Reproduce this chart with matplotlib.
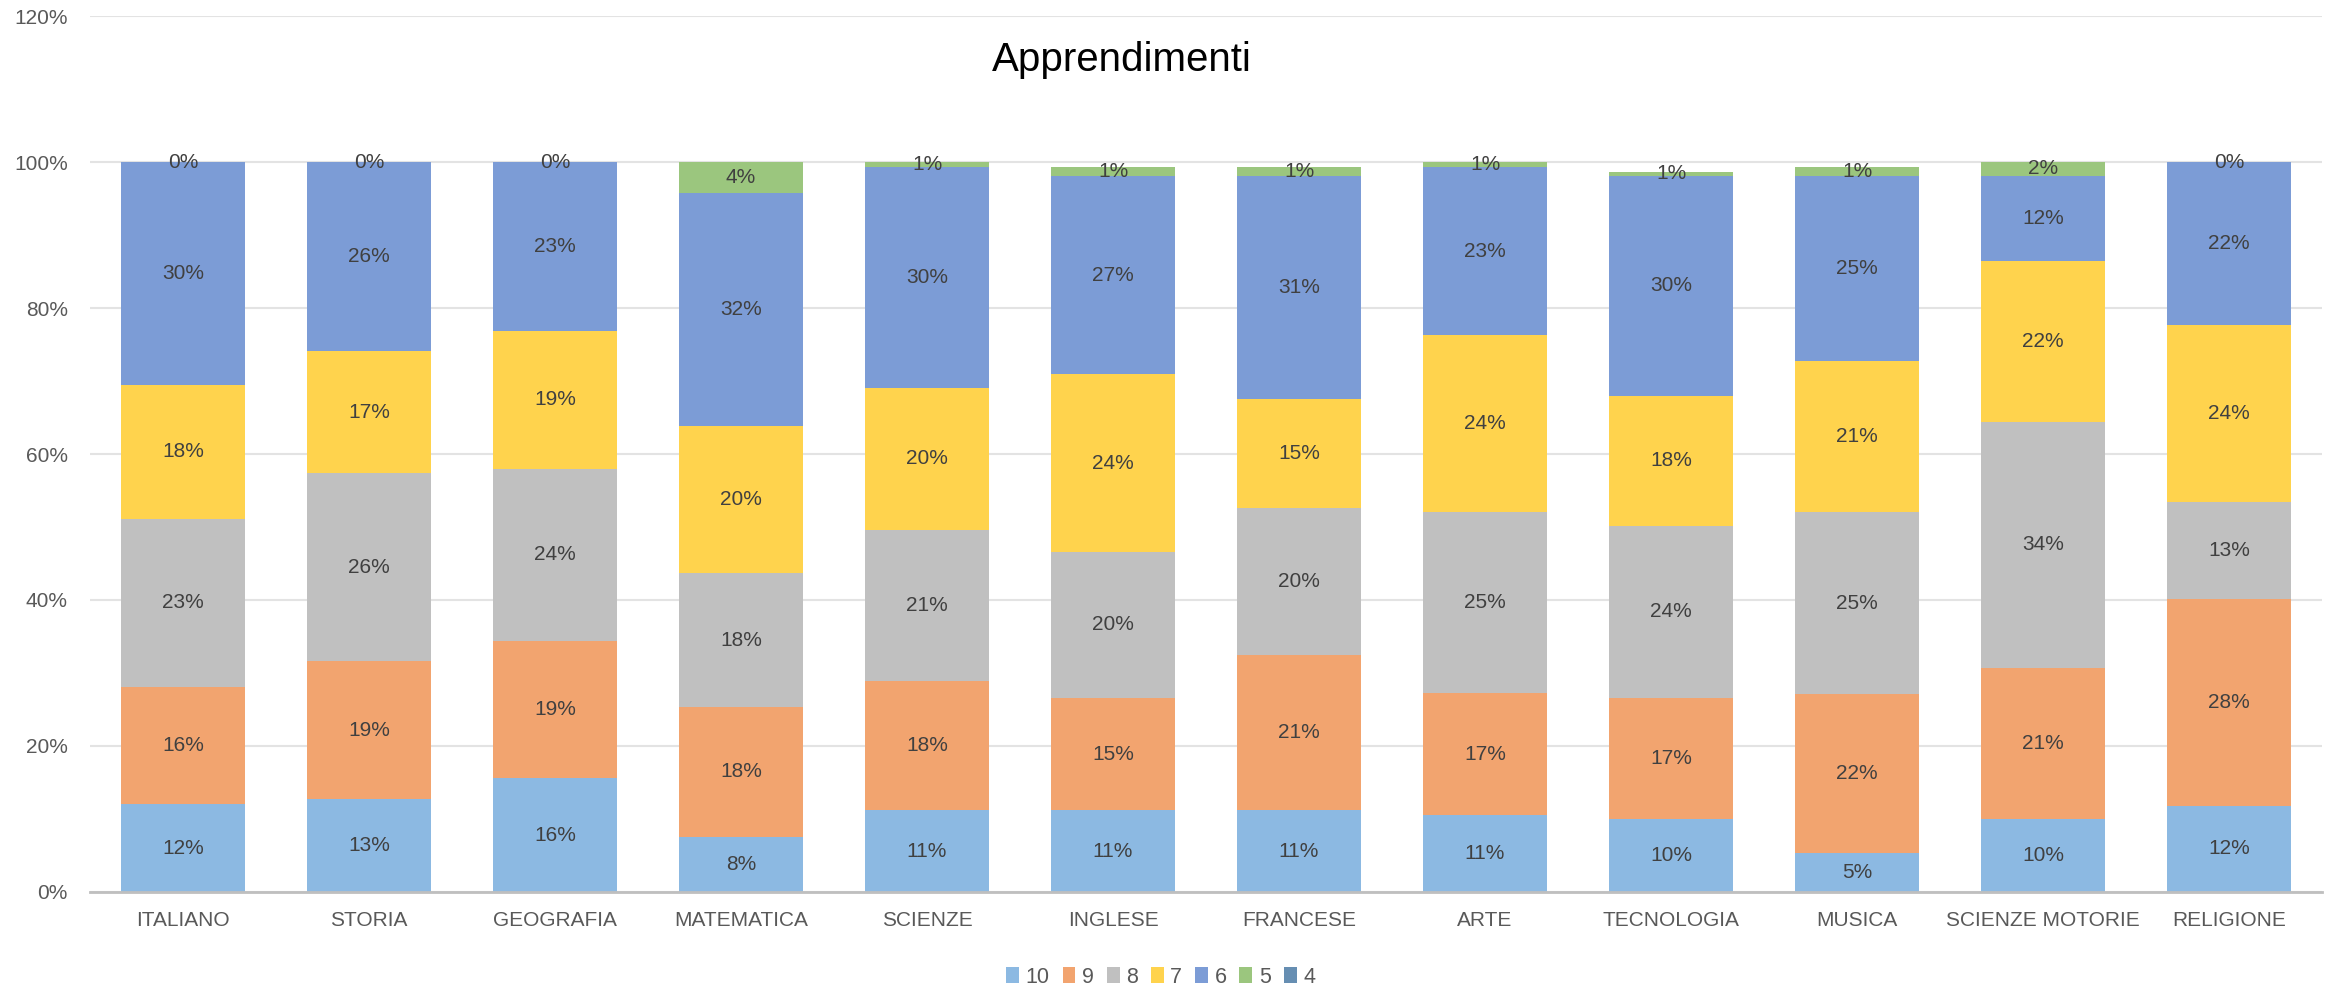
import matplotlib
matplotlib.use("Agg")
import matplotlib.pyplot as plt
import numpy as np
from matplotlib.patches import Patch

categories = ["ITALIANO", "STORIA", "GEOGRAFIA", "MATEMATICA", "SCIENZE", "INGLESE",
              "FRANCESE", "ARTE", "TECNOLOGIA", "MUSICA", "SCIENZE MOTORIE", "RELIGIONE"]
series_names = ["10", "9", "8", "7", "6", "5", "4"]

v10 = [12.0, 12.7, 15.6, 7.6, 11.2, 11.2, 11.2, 10.6, 10.0, 5.3, 10.0, 11.8]
v9 = [16.1, 18.9, 18.8, 17.7, 17.7, 15.4, 21.3, 16.6, 16.6, 21.8, 20.7, 28.4]
v8 = [23.0, 25.8, 23.6, 18.4, 20.7, 20.0, 20.1, 24.8, 23.6, 24.9, 33.7, 13.2]
v7 = [18.4, 16.7, 18.9, 20.1, 19.5, 24.3, 14.9, 24.3, 17.8, 20.7, 22.0, 24.3]
v6 = [30.49, 25.9, 23.1, 32.0, 30.2, 27.2, 30.6, 23.0, 30.1, 25.4, 11.7, 22.3]
v5 = [0.0, 0.0, 0.0, 4.2, 0.7, 1.2, 1.2, 0.7, 0.6, 1.2, 1.9, 0.0]
v4 = [0.0] * 12

series_values = [v10, v9, v8, v7, v6, v5, v4]
colors = ["#5B9BD5", "#ED7D31", "#A5A5A5", "#FFC000", "#4472C4", "#70AD47", "#255E91"]
alpha = 0.7

def blend(hexc, a):
    c = np.array(matplotlib.colors.to_rgb(hexc))
    return tuple(c * a + (1 - a))

fill_colors = [blend(c, alpha) for c in colors]

plt.rcParams['font.family'] = ['Liberation Sans', 'DejaVu Sans']

fig = plt.figure(figsize=(23.4, 9.89), dpi=100)
ax = fig.add_axes([0.0385, 0.0981, 0.9538, 0.8857])

x = np.arange(len(categories))
bottom = np.zeros(len(categories))
width = 0.667
for idx, (name, vals, col) in enumerate(zip(series_names, series_values, fill_colors)):
    vals = np.array(vals)
    ax.bar(x, vals, width, bottom=bottom, color=col, edgecolor="none", zorder=3)
    if name != "4":
        for xi, b, v in zip(x, bottom, vals):
            ax.text(xi, b + v / 2, f"{int(round(v))}%", ha="center", va="center",
                    fontsize=15, color="#404040", zorder=4)
    bottom += vals

ax.set_xlim(-0.5, len(categories) - 0.5)
ax.set_ylim(0, 120)
ax.set_yticks(np.arange(0, 121, 20))
ax.set_yticklabels([f"{t}%" for t in range(0, 121, 20)])
ax.set_xticks(x)
ax.set_xticklabels(categories)
ax.tick_params(axis="both", length=0, labelsize=15, labelcolor="#595959")
ax.tick_params(axis="y", pad=16)
ax.tick_params(axis="x", pad=14)
ax.yaxis.grid(True, color="#E3E3E3", linewidth=1.5, zorder=0)
ax.set_axisbelow(True)
for s in ["top", "right", "left"]:
    ax.spines[s].set_visible(False)
ax.spines["bottom"].set_color("#BFBFBF")
ax.spines["bottom"].set_linewidth(2)
ax.spines["bottom"].set_zorder(5)

fig.text(0.4795, 0.939, "Apprendimenti", ha="center", va="center", fontsize=29, color="#000000")

handles = [Patch(facecolor=c, edgecolor="none") for c in fill_colors]
fig.legend(handles, series_names, loc="center", bbox_to_anchor=(0.496, 0.012), ncol=7,
           frameon=False, fontsize=15.5, handlelength=0.6, handleheight=0.8,
           handletextpad=0.3, columnspacing=0.6, labelcolor="#595959")

fig.savefig("out.png", dpi=100, facecolor="white")
